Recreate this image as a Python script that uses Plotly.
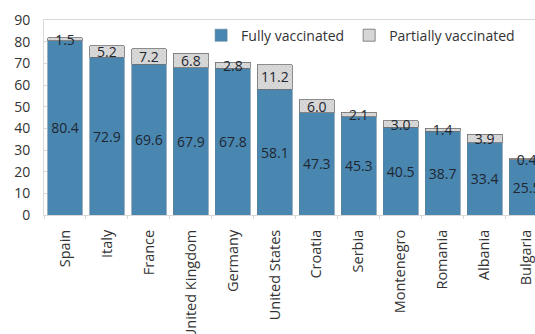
import plotly.graph_objects as go

# Share of population vaccinated against COVID-19, by country (percent)
countries = ["Spain", "Italy", "France", "United Kingdom", "Germany", "United States",
             "Croatia", "Serbia", "Montenegro", "Romania", "Albania", "Bulgaria"]
fully_vaccinated = [80.4, 72.9, 69.6, 67.9, 67.8, 58.1, 47.3, 45.3, 40.5, 38.7, 33.4, 25.5]
partially_vaccinated = [1.5, 5.2, 7.2, 6.8, 2.8, 11.2, 6.0, 2.1, 3.0, 1.4, 3.9, 0.4]
y_ticks = list(range(0, 91, 10))

FONT = "Open Sans"
TEXT_COLOR = "#1e2630"

fig = go.Figure()
fig.add_trace(go.Bar(
    name="Fully vaccinated",
    x=countries,
    y=fully_vaccinated,
    marker=dict(color="#4a87b0", line=dict(color="#5b7f98", width=0.6)),
    texttemplate="%{y:.1f}",
    textposition="inside",
    insidetextanchor="middle",
    textangle=0,
    textfont=dict(family=FONT, size=14, color=TEXT_COLOR),
    hoverinfo="skip",
))
fig.add_trace(go.Bar(
    name="Partially vaccinated",
    x=countries,
    y=partially_vaccinated,
    marker=dict(
        color="#d6d6d6",
        line=dict(color="#6f6f6f", width=0.8),
        pattern=dict(shape="x", size=3, solidity=0.25, fgcolor="#9a9a9a", bgcolor="#dcdcdc"),
    ),
    texttemplate="%{y:.1f}",
    textposition="inside",
    insidetextanchor="middle",
    textangle=0,
    textfont=dict(family=FONT, size=14, color=TEXT_COLOR),
    hoverinfo="skip",
))

fig.update_layout(
    barmode="stack",
    bargap=0.17,
    width=535,
    height=334,
    margin=dict(l=43.5, r=0, t=20, b=119, pad=0, autoexpand=False),
    paper_bgcolor="white",
    plot_bgcolor="white",
    font=dict(family=FONT, size=14, color="#333333"),
    uniformtext=dict(minsize=14, mode="show"),
    showlegend=True,
    legend=dict(
        orientation="h",
        x=0.32, xanchor="left",
        y=0.92, yanchor="middle",
        font=dict(family=FONT, size=14, color="#333333"),
        bgcolor="rgba(0,0,0,0)",
        itemwidth=30,
        traceorder="normal",
    ),
    xaxis=dict(
        range=[-0.5, 11.2],
        automargin=False,
        tickangle=-90,
        ticks="outside",
        tickson="boundaries",
        ticklen=3,
        tickcolor="#d9d9d9",
        ticklabelstandoff=8,
        showline=True,
        linecolor="#d9d9d9",
        mirror=True,
        showgrid=False,
        tickfont=dict(family=FONT, size=14.5, color="#333333"),
    ),
    yaxis=dict(
        range=[0, 90],
        automargin=False,
        tickvals=y_ticks,
        ticks="inside",
        ticklen=3,
        tickcolor="#d9d9d9",
        ticklabelstandoff=10,
        showline=True,
        linecolor="#d9d9d9",
        mirror=True,
        showgrid=False,
        zeroline=False,
        tickfont=dict(family=FONT, size=14, color="#333333"),
    ),
)

fig.write_html("out.html")
